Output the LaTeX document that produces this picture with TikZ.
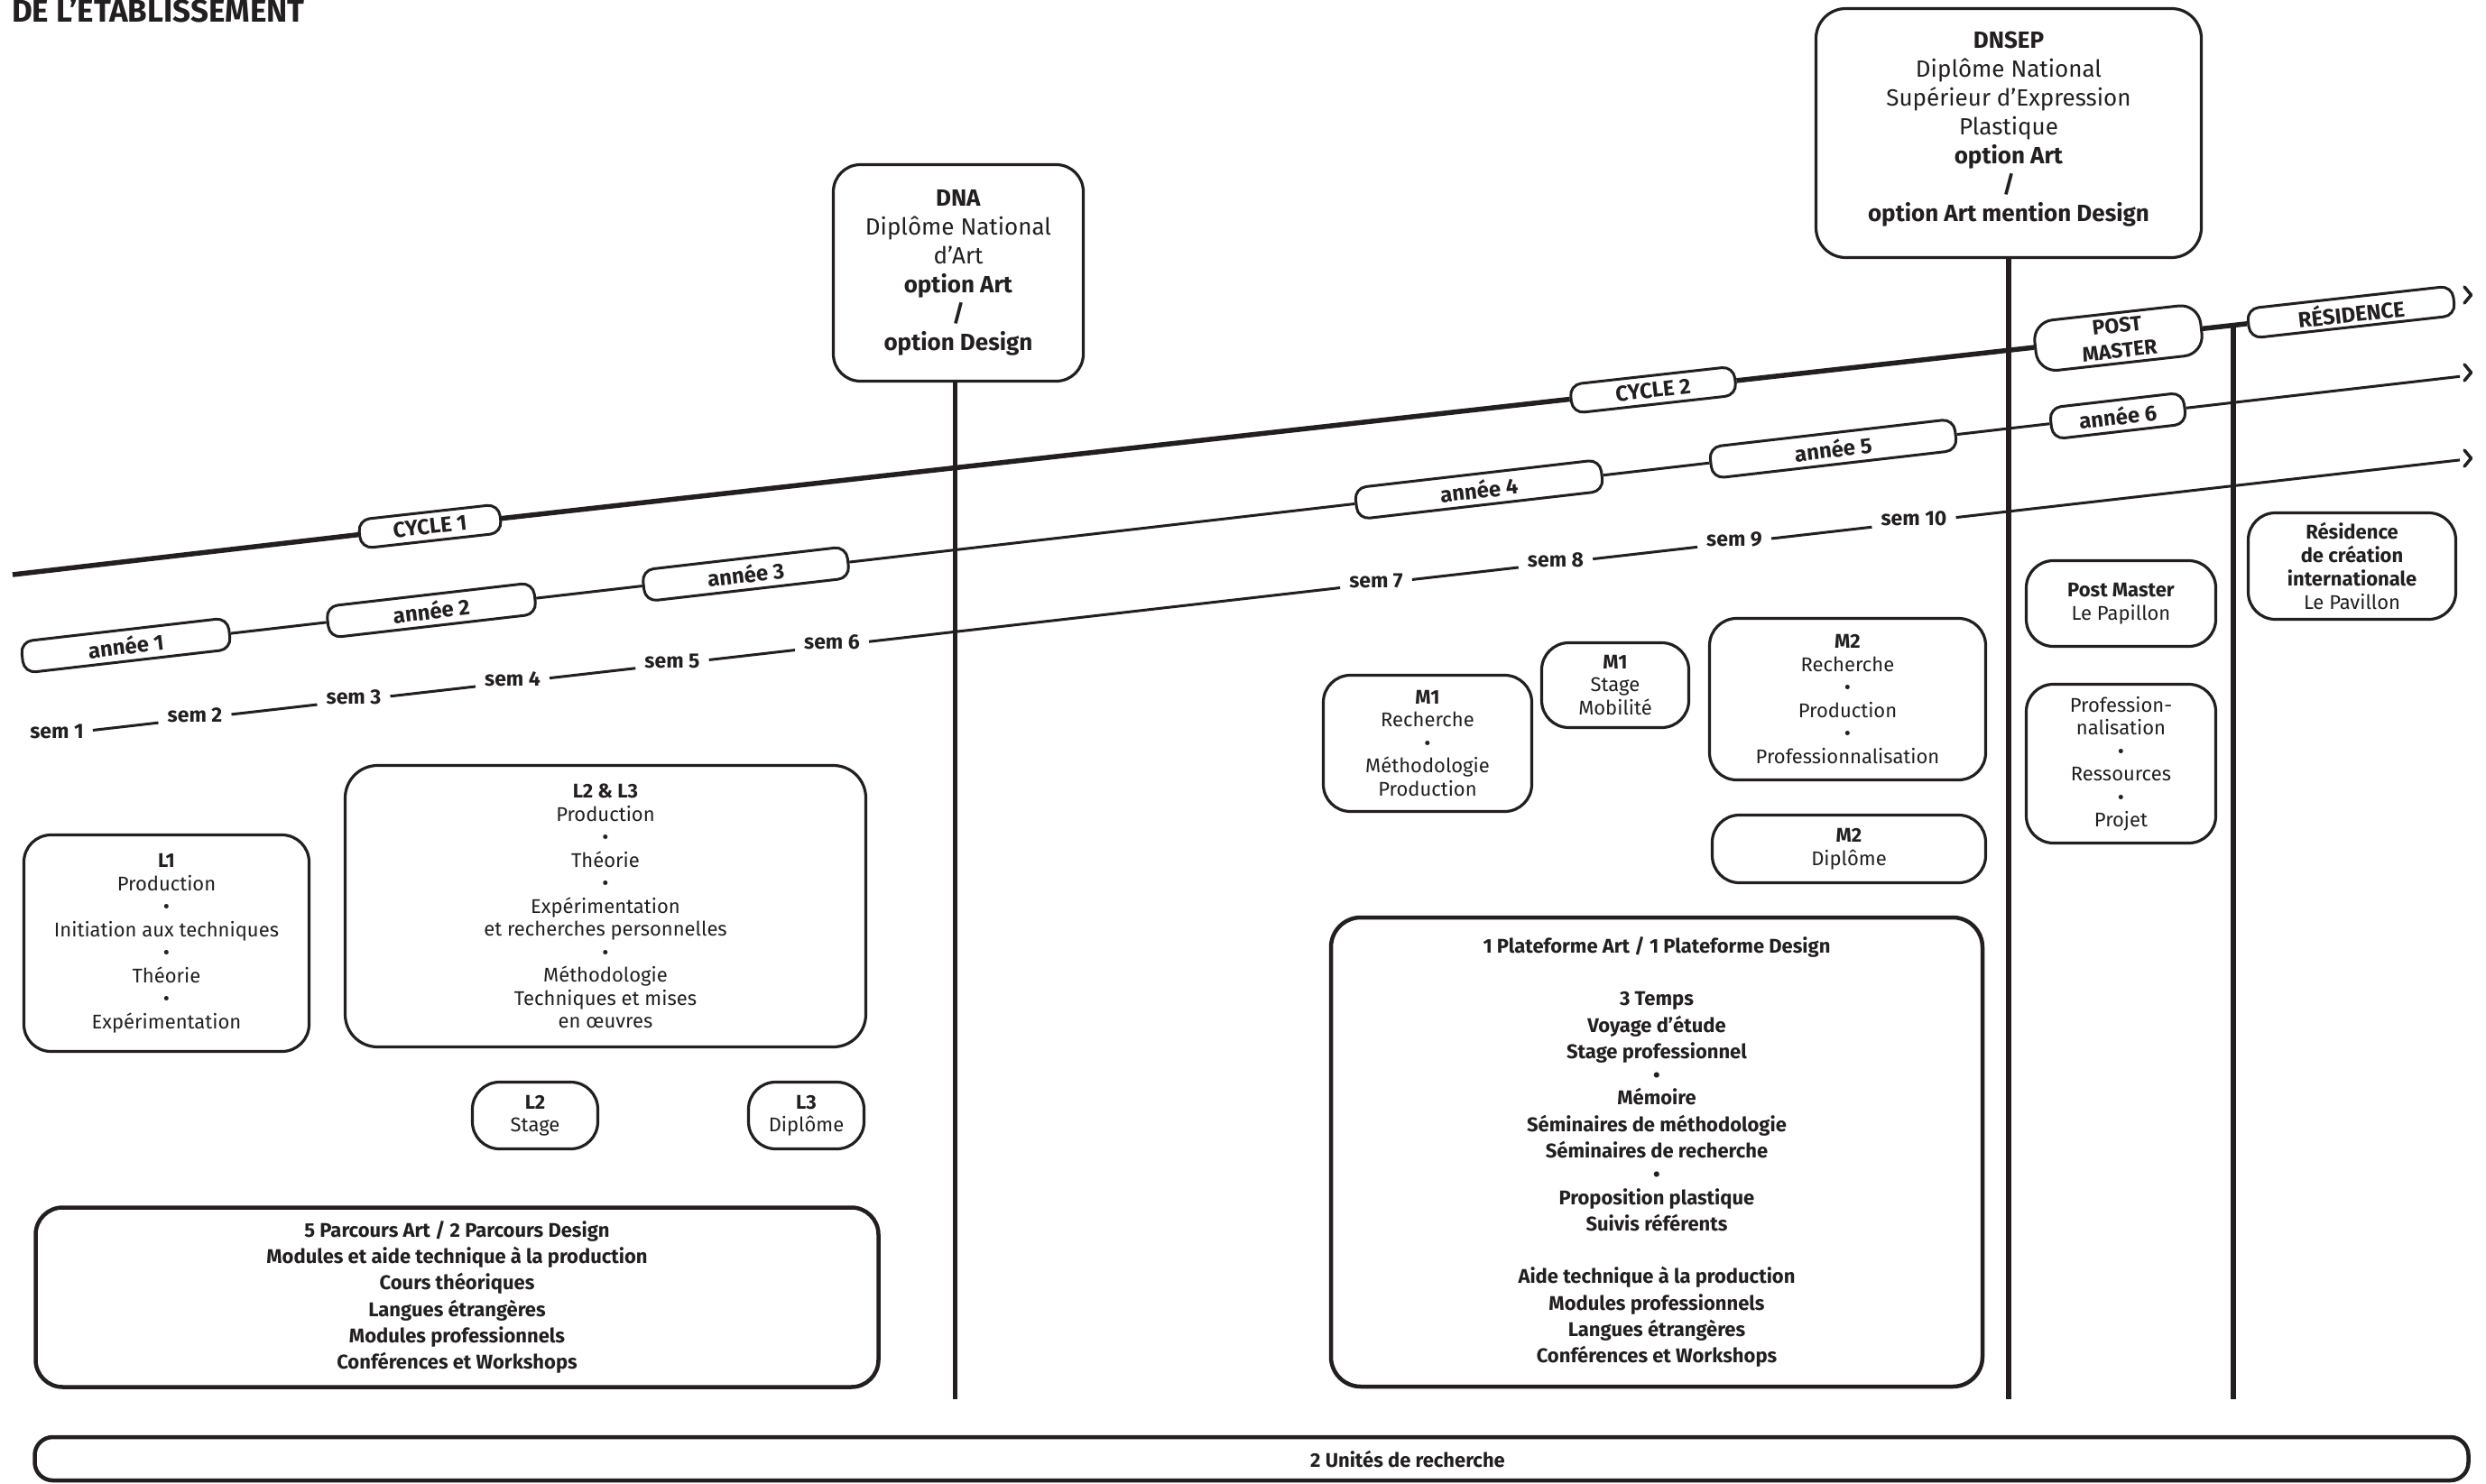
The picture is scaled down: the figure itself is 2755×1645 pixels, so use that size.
\documentclass[tikz,border=0pt]{standalone}
\usepackage{fontspec}
\setmainfont{Fira Sans}
\definecolor{ink}{HTML}{231F20}
\begin{document}
\begin{tikzpicture}[x=1pt,y=-1pt,
  every node/.style={text=ink},
  tl/.style={draw=ink, line width=3pt, fill=white, rounded corners=13pt, inner sep=0pt, align=center, font=\fontsize{24}{28}\selectfont\bfseries},
  cyc/.style={tl, rotate=6.37, minimum height=32pt},
  ann/.style={tl, rotate=6.58, minimum height=35pt},
  box/.style={draw=ink, line width=3.2pt, fill=white, rounded corners=30pt, inner sep=0pt, align=center, font=\fontsize{22}{25.5}\selectfont},
  bigbox/.style={box, line width=4.5pt, font=\fontsize{22}{29.3}\selectfont\bfseries},
  dip/.style={box, rounded corners=30pt, font=\fontsize{26}{32}\selectfont},
  pbox/.style={box, font=\fontsize{22}{26}\selectfont},
  sl/.style={font=\fontsize{23}{27}\selectfont\bfseries, inner xsep=10pt, inner ysep=0pt, text height=16.5pt, text depth=8.5pt},
  thickline/.style={draw=ink, line width=5.5pt},
  thinline/.style={draw=ink, line width=3pt},
  chev/.style={draw=ink, line width=3.5pt, line cap=round, line join=round}
]
\path[fill=white, use as bounding box] (0,0) rectangle (2755,1645);

% title
\node[anchor=base west, inner sep=0pt, font=\fontsize{35}{38}\selectfont\bfseries] (title) at (13,25) {DE L’ETABLISSEMENT};

% diploma boxes
\node[dip, minimum width=277pt, minimum height=240pt] (dna) at (1062,302.5)
  {\textbf{DNA}\\Diplôme National\\d’Art\\\textbf{option Art}\\\textbf{/}\\\textbf{option Design}};
\node[dip, rounded corners=33pt, minimum width=427pt, minimum height=276pt] (dnsep) at (2226,147.5)
  {\textbf{DNSEP}\\Diplôme National\\Supérieur d’Expression\\Plastique\\\textbf{option Art}\\\textbf{/}\\\textbf{option Art mention Design}\\[-17pt]\mbox{}};

% vertical lines
\coordinate (dnabot) at (1058.5,1551);
\coordinate (dnsepbot) at (2226,1551);
\coordinate (restop) at (2475,360.5);
\coordinate (resbot) at (2475,1551);
\draw[thickline] (dna.south -| dnabot) -- (dnabot);
\draw[thickline] (dnsep.south) -- (dnsepbot);
\draw[thickline] (restop) -- (resbot);

% cycle line
\coordinate (cstart) at (14,637);
\node[cyc, minimum width=157pt] (cy1) at (476.5,583.5) {CYCLE 1};
\node[cyc, minimum width=183pt] (cy2) at (1832,432.2) {CYCLE 2};
\node[cyc, minimum width=185pt, minimum height=56pt, rounded corners=22pt, font=\fontsize{23}{28}\selectfont\bfseries] (pm) at (2347.5,374.7) {POST\\MASTER};
\node[cyc, minimum width=229pt, minimum height=33pt] (res) at (2605.5,346) {RÉSIDENCE};
\draw[thickline] (cstart) -- (cy1);
\draw[thickline] (cy1) -- (cy2);
\draw[thickline] (cy2) -- (pm);
\draw[thickline] (pm) -- (res);
\draw[chev] (2731,318) -- (2738.5,327) -- (2731,336);

% annee line
\node[ann, minimum width=231pt] (a1) at (139.5,715.5) {année 1};
\node[ann, minimum width=231pt] (a2) at (478,676.5) {année 2};
\node[ann, minimum width=228pt] (a3) at (826.5,636.3) {année 3};
\node[ann, minimum width=274pt] (a4) at (1639,542.6) {année 4};
\node[ann, minimum width=273pt] (a5) at (2031.5,497.4) {année 5};
\node[ann, minimum width=149pt] (a6) at (2347,461) {année 6};
\coordinate (aend) at (2726,417.3);
\draw[thinline] (a1) -- (a2);
\draw[thinline] (a2) -- (a3);
\draw[thinline] (a3) -- (a4);
\draw[thinline] (a4) -- (a5);
\draw[thinline] (a5) -- (a6);
\draw[thinline] (a6) -- (aend);
\draw[chev] (2731,404) -- (2738.5,413) -- (2731,422);

% semester line
\node[sl] (s1) at (63,814) {sem 1};
\node[sl] (s2) at (216,796.5) {sem 2};
\node[sl] (s3) at (392,776.4) {sem 3};
\node[sl] (s4) at (568,756.3) {sem 4};
\node[sl] (s5) at (745,736.1) {sem 5};
\node[sl] (s6) at (922,715.9) {sem 6};
\node[sl] (s7) at (1525,647) {sem 7};
\node[sl] (s8) at (1724,624.3) {sem 8};
\node[sl] (s9) at (1922,601.7) {sem 9};
\node[sl] (s10) at (2121,578.9) {sem 10};
\coordinate (send) at (2726,509.9);
\draw[thinline] (s1) -- (s2);
\draw[thinline] (s2) -- (s3);
\draw[thinline] (s3) -- (s4);
\draw[thinline] (s4) -- (s5);
\draw[thinline] (s5) -- (s6);
\draw[thinline] (s6) -- (s7);
\draw[thinline] (s7) -- (s8);
\draw[thinline] (s8) -- (s9);
\draw[thinline] (s9) -- (s10);
\draw[thinline] (s10) -- (send);
\draw[chev] (2731,499) -- (2738.5,508) -- (2731,517);

% licence boxes
\node[box, minimum width=316pt, minimum height=240pt] (l1) at (184.5,1045.5)
  {\textbf{L1}\\Production\\•\\Initiation aux techniques\\•\\Théorie\\•\\Expérimentation};
\node[box, rounded corners=36pt, minimum width=577pt, minimum height=312pt] (l23) at (671,1004.5)
  {\textbf{L2 \& L3}\\Production\\•\\Théorie\\•\\Expérimentation\\et recherches personnelles\\•\\Méthodologie\\Techniques et mises\\en œuvres};
\node[box, minimum width=139pt, minimum height=74pt] (l2s) at (593,1236.5) {\textbf{L2}\\Stage};
\node[box, minimum width=128pt, minimum height=74pt] (l3d) at (893.5,1236.5) {\textbf{L3}\\Diplôme};
\node[bigbox, minimum width=934pt, minimum height=199pt] (parc) at (506.5,1438)
  {5 Parcours Art / 2 Parcours Design\\Modules et aide technique à la production\\Cours théoriques\\Langues étrangères\\Modules professionnels\\Conférences et Workshops};

% master boxes
\node[box, minimum width=231pt, minimum height=151pt] (m1r) at (1582,824)
  {\textbf{M1}\\Recherche\\•\\Méthodologie\\Production};
\node[box, minimum width=163pt, minimum height=94pt] (m1s) at (1790,759.5)
  {\textbf{M1}\\Stage\\Mobilité};
\node[box, minimum width=306pt, minimum height=179pt] (m2r) at (2047.5,775)
  {\textbf{M2}\\Recherche\\•\\Production\\•\\Professionnalisation};
\node[box, minimum width=303pt, minimum height=75pt] (m2d) at (2049,941)
  {\textbf{M2}\\Diplôme};
\node[bigbox, rounded corners=33pt, minimum width=722pt, minimum height=520pt] (plat) at (1836,1277)
  {1 Plateforme Art / 1 Plateforme Design\\[29pt]3 Temps\\Voyage d’étude\\Stage professionnel\\[-3.5pt]•\\[-3.5pt]Mémoire\\Séminaires de méthodologie\\Séminaires de recherche\\[-3.5pt]•\\[-3.5pt]Proposition plastique\\Suivis référents\\[29pt]Aide technique à la production\\Modules professionnels\\Langues étrangères\\Conférences et Workshops};

% post master / residence boxes
\node[pbox, minimum width=210pt, minimum height=95pt] (pmb) at (2350.5,669)
  {\textbf{Post Master}\\Le Papillon};
\node[box, minimum width=210pt, minimum height=176pt] (prof) at (2350.5,846.5)
  {Profession-\\nalisation\\•\\Ressources\\•\\Projet};
\node[pbox, minimum width=230pt, minimum height=118pt] (resb) at (2606.5,627.5)
  {\textbf{Résidence}\\\textbf{de création}\\\textbf{internationale}\\Le Pavillon};

% research bar
\node[box, line width=4.5pt, rounded corners=20pt, minimum width=2697pt, minimum height=48pt] (rech) at (1387,1617) {};
\node[font=\fontsize{22}{26}\selectfont\bfseries, inner sep=0pt] (rechlab) at (1560,1617) {2 Unités de recherche};
\end{tikzpicture}
\end{document}
